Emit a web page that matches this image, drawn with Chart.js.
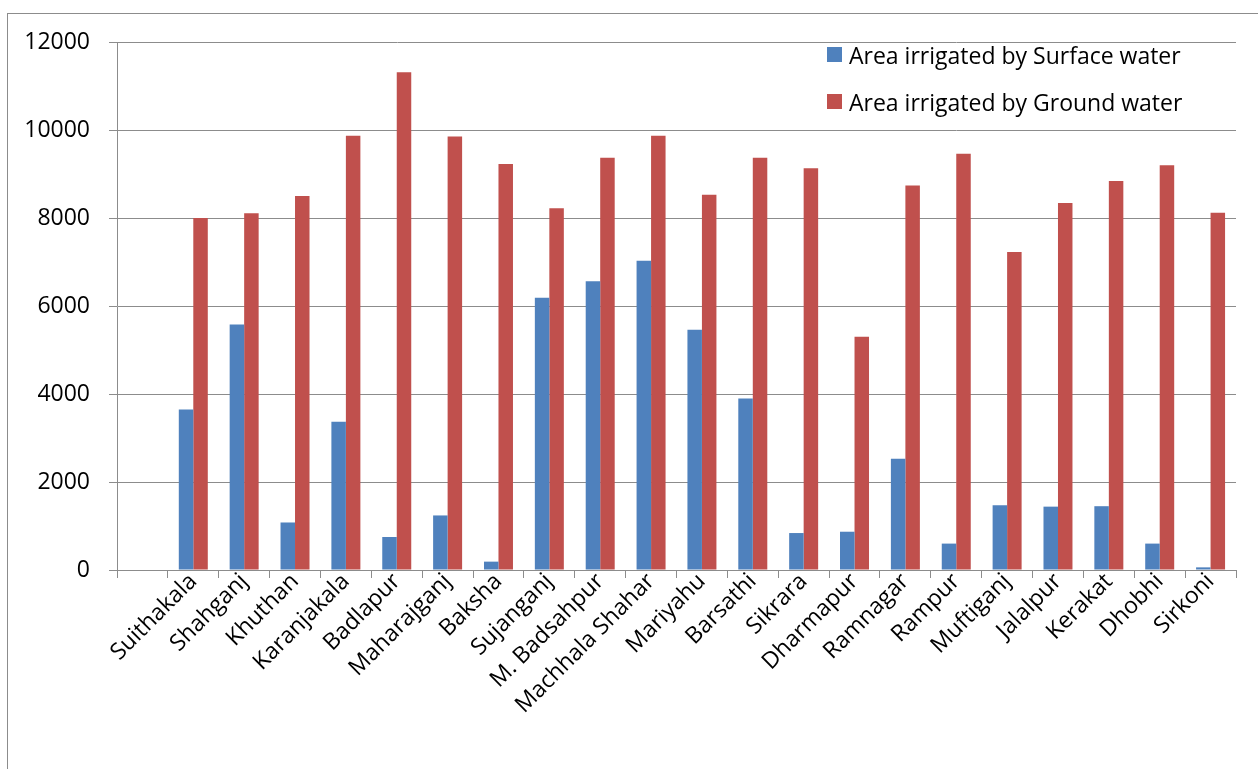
<!DOCTYPE html>
<html>
<head>
<meta charset="utf-8">
<title>Area irrigated by surface and ground water</title>
<script src="https://cdn.jsdelivr.net/npm/chart.js@4.4.1/dist/chart.umd.min.js"></script>
<style>
  html, body { margin: 0; padding: 0; background: #fff; overflow: hidden; }
  #wrap { position: relative; width: 1258px; height: 769px; }
  #frame { position: absolute; left: 7px; top: 13px; width: 1400px; height: 900px; border: 1px solid #8c8c8c; box-sizing: border-box; }
  #chart { position: absolute; left: 0; top: 0; }
  #legend { position: absolute; left: 827px; top: 31px; font-family: "Open Sans", sans-serif; font-size: 23px; color: #000; }
  #legend .item { display: flex; align-items: center; height: 47px; }
  #legend .swatch { width: 15px; height: 15px; margin-right: 7px; }
</style>
</head>
<body>
<div id="wrap">
  <div id="frame"></div>
  <canvas id="chart" width="1258" height="769"></canvas>
  <div id="legend"></div>
</div>
<script>
// Blocks (first slot is left blank on the axis)
const blocks = ['', 'Suithakala', 'Shahganj', 'Khuthan', 'Karanjakala', 'Badlapur', 'Maharajganj',
  'Baksha', 'Sujanganj', 'M. Badsahpur', 'Machhala Shahar', 'Mariyahu', 'Barsathi', 'Sikrara',
  'Dharmapur', 'Ramnagar', 'Rampur', 'Muftiganj', 'Jalalpur', 'Kerakat', 'Dhobhi', 'Sirkoni'];

// Area irrigated (ha)
const surfaceWater = [null, 3650, 5580, 1080, 3370, 750, 1240, 190, 6190, 6560, 7030, 5460,
  3900, 840, 870, 2530, 600, 1470, 1440, 1450, 600, 60];
const groundWater = [null, 8000, 8110, 8500, 9870, 11310, 9850, 9230, 8220, 9370, 9870, 8530,
  9370, 9130, 5300, 8740, 9460, 7230, 8340, 8840, 9200, 8120];

const seriesNames = ['Area irrigated by Surface water', 'Area irrigated by Ground water'];
const seriesColors = ['#4F81BD', '#C0504D'];

// Y axis ticks
const yMin = 0, yMax = 12000, yStep = 2000;

const FONT = '"Open Sans", sans-serif';
const GRID = '#8c8c8c';

const chart = new Chart(document.getElementById('chart'), {
  type: 'bar',
  data: {
    labels: blocks,
    datasets: [
      { label: seriesNames[0], data: surfaceWater, backgroundColor: seriesColors[0] },
      { label: seriesNames[1], data: groundWater, backgroundColor: seriesColors[1] }
    ]
  },
  options: {
    responsive: false,
    animation: false,
    devicePixelRatio: 1,
    layout: { padding: { left: 0, top: 42, right: 22, bottom: 0 } },
    datasets: { bar: { categoryPercentage: 0.57, barPercentage: 1.0 } },
    plugins: { legend: { display: false }, tooltip: { enabled: false } },
    scales: {
      x: {
        grid: { display: true, drawOnChartArea: false, offset: true, tickLength: 8, color: GRID, lineWidth: 1 },
        border: { display: true, color: GRID, width: 1 },
        ticks: {
          color: '#000', font: { family: FONT, size: 23 },
          minRotation: 45, maxRotation: 45, autoSkip: false, padding: -10
        },
        afterFit: (s) => { s.height = 199; }
      },
      y: {
        min: yMin, max: yMax,
        grid: { color: GRID, lineWidth: 1, tickLength: 8 },
        border: { display: true, color: GRID, width: 1 },
        ticks: {
          stepSize: yStep, color: '#000', font: { family: FONT, size: 23 }, padding: 19,
          callback: (v) => String(v)
        },
        afterFit: (s) => { s.width = 117; }
      }
    }
  }
});

// Legend built from the dataset names and colours
const legend = document.getElementById('legend');
seriesNames.forEach((name, i) => {
  const item = document.createElement('div');
  item.className = 'item';
  const sw = document.createElement('span');
  sw.className = 'swatch';
  sw.style.background = seriesColors[i];
  const txt = document.createElement('span');
  txt.textContent = name;
  item.appendChild(sw);
  item.appendChild(txt);
  legend.appendChild(item);
});
</script>
</body>
</html>
